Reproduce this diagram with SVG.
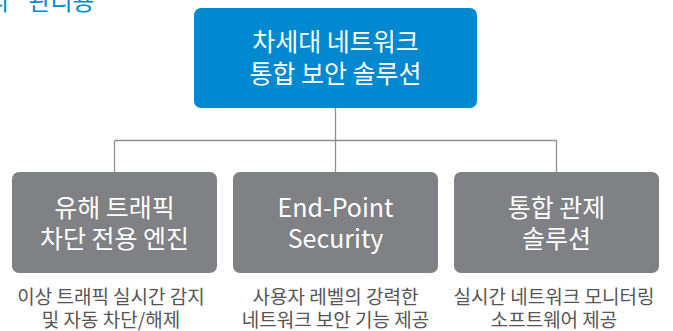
<svg xmlns="http://www.w3.org/2000/svg" width="673" height="331" viewBox="0 0 673 331">
<style>
text{font-family:"Noto Sans CJK KR","Noto Sans",sans-serif;text-anchor:middle}
.t{fill:#ffffff;font-size:25px}
.c{fill:#555555;font-size:19px}
.gray{fill:#808184}
.conn{stroke:#8f8f91;stroke-width:1.3;fill:none}
.head{fill:#0089d0;font-size:24px;text-anchor:start}
</style>
<rect width="673" height="331" fill="#ffffff"/>
<text class="head" x="-13" y="10" word-spacing="14">리 관리용</text>
<g id="connectors">
<path class="conn" d="M335.5 108 V172 M114.5 140.5 H556.5 M114.5 140.5 V172 M556.5 140.5 V172"/>
</g>
<g id="top">
<rect x="194" y="8" width="283" height="100" rx="7" fill="#0089d0"/>
<text class="t" x="335.5" y="51">차세대 네트워크</text>
<text class="t" x="335.5" y="83">통합 보안 솔루션</text>
</g>
<g id="n1">
<rect class="gray" x="12" y="172" width="205" height="101" rx="7"/>
<text class="t" x="114.5" y="217">유해 트래픽</text>
<text class="t" x="114.5" y="248">차단 전용 엔진</text>
<text class="c" x="111" y="304">이상 트래픽 실시간 감지</text>
<text class="c" x="111" y="327">및 자동 차단/해제</text>
</g>
<g id="n2">
<rect class="gray" x="233" y="172" width="205" height="101" rx="7"/>
<text class="t" x="335.5" y="217">End-Point</text>
<text class="t" x="335.5" y="248">Security</text>
<text class="c" x="335.5" y="304">사용자 레벨의 강력한</text>
<text class="c" x="335.5" y="327">네트워크 보안 기능 제공</text>
</g>
<g id="n3">
<rect class="gray" x="454" y="172" width="205" height="101" rx="7"/>
<text class="t" x="556.5" y="217">통합 관제</text>
<text class="t" x="556.5" y="248">솔루션</text>
<text class="c" x="554" y="304">실시간 네트워크 모니터링</text>
<text class="c" x="554" y="327">소프트웨어 제공</text>
</g>
</svg>
